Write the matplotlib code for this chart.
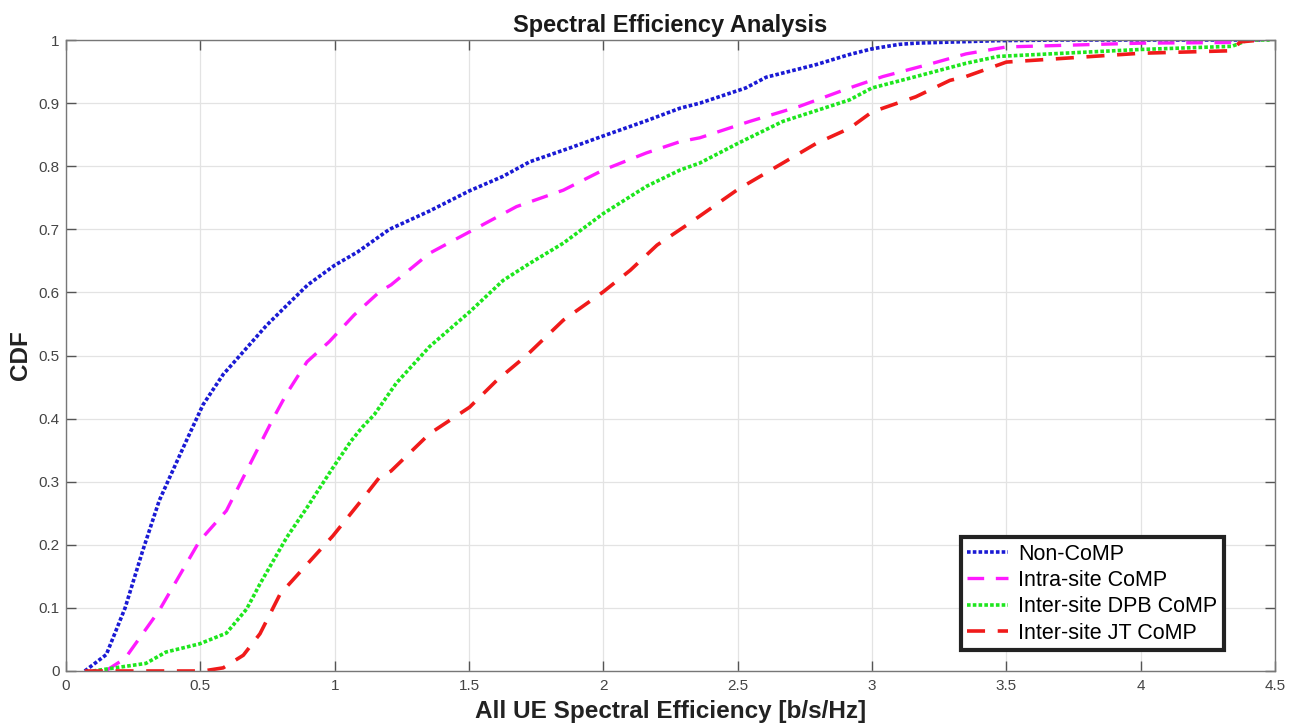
import matplotlib
matplotlib.use("Agg")
import matplotlib.pyplot as plt

plt.rcParams['font.family'] = ['Liberation Sans', 'DejaVu Sans']

# Non-CoMP
x_non = [0.07, 0.15, 0.22, 0.285, 0.347, 0.385, 0.447, 0.51, 0.585, 0.66, 0.747, 0.835, 0.9, 1.0,
         1.085, 1.204, 1.353, 1.502, 1.627, 1.726, 1.876, 2.0, 2.16, 2.286, 2.36, 2.53, 2.606,
         2.792, 2.916, 3.0, 3.1, 3.163, 3.47, 3.7, 4.0, 4.45]
y_non = [0.0, 0.026, 0.1, 0.19, 0.27, 0.306, 0.364, 0.422, 0.47, 0.506, 0.548, 0.585, 0.612, 0.643,
         0.664, 0.7, 0.729, 0.761, 0.784, 0.807, 0.829, 0.848, 0.872, 0.892, 0.9, 0.924, 0.941,
         0.961, 0.977, 0.986, 0.993, 0.995, 0.999, 1.0, 1.0, 1.0]

# Intra-site CoMP
x_intra = [0.147, 0.22, 0.347, 0.497, 0.597, 0.672, 0.772, 0.822, 0.897, 0.98, 1.072, 1.167, 1.21,
           1.353, 1.502, 1.677, 1.851, 2.0, 2.16, 2.286, 2.359, 2.545, 2.731, 2.916, 3.04, 3.225,
           3.35, 3.5, 4.0, 4.34, 4.4, 4.45]
y_intra = [0.0, 0.02, 0.096, 0.206, 0.254, 0.317, 0.401, 0.44, 0.49, 0.522, 0.564, 0.601, 0.612,
           0.662, 0.696, 0.736, 0.762, 0.794, 0.821, 0.839, 0.845, 0.871, 0.895, 0.924, 0.942, 0.963,
           0.978, 0.989, 0.995, 0.996, 1.0, 1.0]

# Inter-site DPB CoMP
x_dpb = [0.1, 0.297, 0.372, 0.497, 0.597, 0.672, 0.722, 0.822, 0.897, 0.99, 1.06, 1.104, 1.147,
         1.229, 1.353, 1.502, 1.627, 1.726, 1.851, 2.0, 2.16, 2.286, 2.359, 2.5, 2.668, 2.916,
         3.0, 3.163, 3.349, 3.47, 4.0, 4.34, 4.4, 4.48]
y_dpb = [0.0, 0.012, 0.03, 0.043, 0.06, 0.098, 0.138, 0.212, 0.259, 0.32, 0.364, 0.387, 0.406,
         0.456, 0.514, 0.569, 0.619, 0.646, 0.678, 0.725, 0.768, 0.794, 0.805, 0.836, 0.871, 0.905,
         0.924, 0.942, 0.963, 0.974, 0.985, 0.99, 1.0, 1.0]

# Inter-site JT CoMP
x_jt = [0.07, 0.51, 0.585, 0.66, 0.722, 0.797, 0.897, 0.993, 1.097, 1.167, 1.21, 1.353, 1.502,
        1.602, 1.714, 1.851, 2.0, 2.1, 2.2, 2.322, 2.5, 2.668, 2.792, 2.916, 3.0, 3.163, 3.29,
        3.349, 3.5, 4.0, 4.34, 4.37, 4.45]
y_jt = [0.0, 0.0, 0.005, 0.025, 0.059, 0.122, 0.169, 0.214, 0.269, 0.307, 0.317, 0.376, 0.418,
        0.46, 0.5, 0.556, 0.601, 0.635, 0.675, 0.71, 0.763, 0.805, 0.836, 0.86, 0.886, 0.91, 0.936,
        0.942, 0.965, 0.979, 0.983, 0.997, 1.0]

labels = ['Non-CoMP', 'Intra-site CoMP', 'Inter-site DPB CoMP', 'Inter-site JT CoMP']
x_ticks = [0, 0.5, 1, 1.5, 2, 2.5, 3, 3.5, 4, 4.5]
y_ticks = [0, 0.1, 0.2, 0.3, 0.4, 0.5, 0.6, 0.7, 0.8, 0.9, 1]

fig = plt.figure(figsize=(12.95, 7.26), dpi=100)
ax = fig.add_axes([66/1295, 1-671/726, (1275-66)/1295, (671-40)/726])

ax.plot(x_non, y_non, color='#1a1ad4', linestyle=(0, (1, 0.6)), lw=2.6, label=labels[0])
ax.plot(x_intra, y_intra, color='#ff1aff', linestyle=(0, (5, 3.5)), lw=2.4, label=labels[1])
ax.plot(x_dpb, y_dpb, color='#1ee61e', linestyle=(0, (1, 0.6)), lw=2.6, label=labels[2])
ax.plot(x_jt, y_jt, color='#f01a1a', linestyle=(0, (5, 3.5)), lw=2.6, label=labels[3])

ax.set_xlim(0, 4.5)
ax.set_ylim(0, 1)
ax.set_xticks(x_ticks)
ax.set_xticklabels(['0', '0.5', '1', '1.5', '2', '2.5', '3', '3.5', '4', '4.5'])
ax.set_yticks(y_ticks)
ax.set_yticklabels(['0', '0.1', '0.2', '0.3', '0.4', '0.5', '0.6', '0.7', '0.8', '0.9', '1'])
ax.grid(True, color='#e3e3e3', lw=0.9)
ax.set_axisbelow(True)
ax.tick_params(direction='in', top=True, right=True, length=7, width=1, colors='#555555',
               labelcolor='#444444', labelsize=11)
ax.tick_params(axis='x', pad=6)
ax.tick_params(axis='y', pad=4.5)
for s in ax.spines.values():
    s.set_color('#777777')
    s.set_linewidth(1.0)

ax.set_title('Spectral Efficiency Analysis', fontsize=17, fontweight='bold', color='#1a1a1a', pad=6)
ax.set_xlabel('All UE Spectral Efficiency [b/s/Hz]', fontsize=17.5, fontweight='bold', color='#222222', labelpad=5)
ax.set_ylabel('CDF', fontsize=17.5, fontweight='bold', color='#222222', labelpad=5)

leg = ax.legend(loc='lower right', bbox_to_anchor=(0.9575, 0.033), fontsize=15.5, fancybox=False,
                framealpha=1, edgecolor='#222222', handlelength=1.9, handletextpad=0.45,
                borderpad=0.3, labelspacing=0.25, borderaxespad=0)
leg.get_frame().set_linewidth(3)

fig.savefig('out.png', dpi=100)
